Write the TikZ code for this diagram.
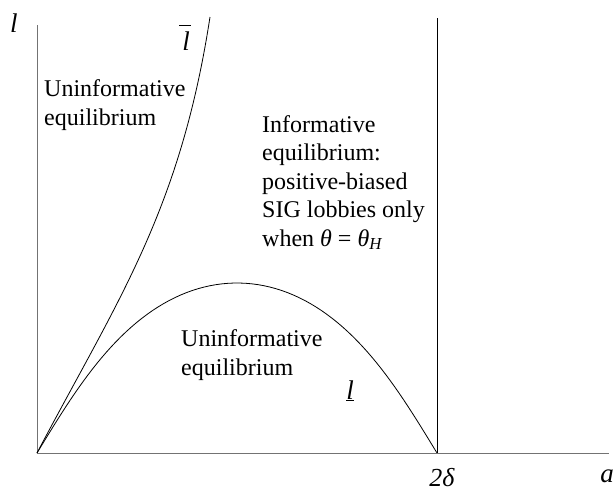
\documentclass[tikz,border=0pt]{standalone}
\usepackage{fontspec}
\setmainfont{Liberation Serif}
\begin{document}
\begin{tikzpicture}[x=1pt,y=-1pt,
  axis/.style={draw=black!55, line width=1pt},
  curve/.style={draw=black, line width=0.8pt},
  region/.style={align=left, inner sep=0pt, anchor=base west, font=\fontsize{24}{28.5}\selectfont},
  sym/.style={inner sep=0pt, anchor=base, font=\fontsize{27}{30}\selectfont\itshape}]
  \useasboundingbox (0,0) rectangle (614,493);
  \coordinate (O) at (37,453);
  \coordinate (ytop) at (37,25);
  \coordinate (xend) at (609,453);
  \coordinate (D) at (437,453);
  \coordinate (Dtop) at (437,18);
  \coordinate (Ltop) at (210,17);
  \draw[axis] (ytop) -- (O) -- (xend);
  \draw[curve] (Dtop) -- (D);
  \draw[curve] (O) .. controls (117,301) and (180,212) .. (Ltop);
  \draw[curve] plot[domain=0:1, samples=80] ({37+400*\x-12*sin(360*\x)}, {453-170*sin(180*\x)});
  \node[sym] (ylab) at (14,32) {l};
  \node[sym] (xlab) at (607,482) {a};
  \node[sym, font=\fontsize{26}{30}\selectfont\itshape] (dlab) at (442,486) {2δ};
  \node[sym] (upper) at (186,50) {\rlap{\kern-3pt\rule[24pt]{12pt}{0.8pt}}l};
  \node[sym] (lower) at (350,399) {\underline{l}};
  \node[region] (uninfA) at (44,125) {Uninformative\\equilibrium};
  \node[region] (inf) at (262,246) {Informative\\equilibrium:\\positive-biased\\SIG lobbies only\\when \textit{θ} = \textit{θ}\textsubscript{\textit{H}}};
  \node[region] (uninfB) at (181,375) {Uninformative\\equilibrium};
\end{tikzpicture}
\end{document}
